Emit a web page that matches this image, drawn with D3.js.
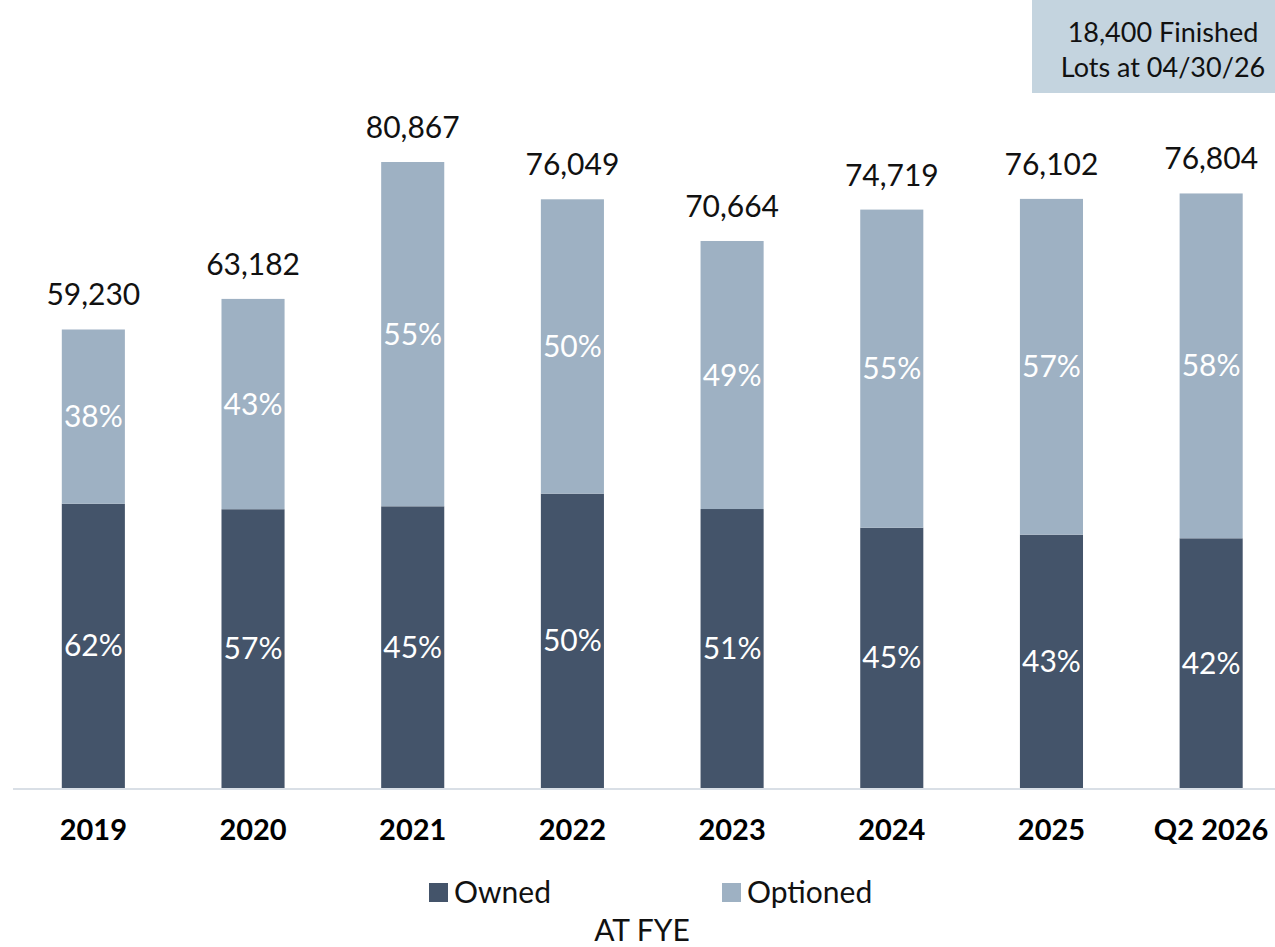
<!DOCTYPE html>
<html>
<head>
<meta charset="utf-8">
<script src="https://cdn.jsdelivr.net/npm/d3@7"></script>
<style>
    body { margin: 0; background: #fff; }
    text { font-family: Lato, "Open Sans", sans-serif; }
</style>
</head>
<body>
<div id="chart"></div>
<script>
// 数据
const categories = ["2019", "2020", "2021", "2022", "2023", "2024", "2025", "Q2 2026"];
const totals = [59230, 63182, 80867, 76049, 70664, 74719, 76102, 76804];
const ownedPct = [62, 57, 45, 50, 51, 45, 43, 42];
const optionedPct = [38, 43, 55, 50, 49, 55, 57, 58];
const noteLines = ["18,400 Finished", "Lots at 04/30/26"];

const width = 1275;
const height = 947;
const baseY = 788;

const colorOwned = "#44546a";
const colorOptioned = "#9eb1c3";

var svg = d3.select("#chart").append("svg")
    .attr("width", width).attr("height", height);

var x = d3.scaleBand()
    .domain(categories)
    .range([13.5, 1291])
    .paddingInner(0.605)
    .paddingOuter(0.3025);

var y = d3.scaleLinear()
    .domain([0, d3.max(totals)])
    .range([baseY, 162]);

var rows = categories.map(function (c, i) {
    var owned = totals[i] * ownedPct[i] / 100;
    return {cat: c, total: totals[i], owned: owned, op: ownedPct[i], pp: optionedPct[i]};
});

var bars = svg.append("g").attr("id", "bars");

// owned部分
bars.selectAll(".owned")
    .data(rows)
    .enter()
    .append("rect")
    .attr("class", "owned")
    .attr("x", d => x(d.cat))
    .attr("width", x.bandwidth())
    .attr("y", d => y(d.owned))
    .attr("height", d => baseY - y(d.owned))
    .attr("fill", colorOwned);

// optioned部分
bars.selectAll(".optioned")
    .data(rows)
    .enter()
    .append("rect")
    .attr("class", "optioned")
    .attr("x", d => x(d.cat))
    .attr("width", x.bandwidth())
    .attr("y", d => y(d.total))
    .attr("height", d => y(d.owned) - y(d.total))
    .attr("fill", colorOptioned);

// 百分比标签
bars.selectAll(".owned_text")
    .data(rows)
    .enter()
    .append("text")
    .attr("x", d => x(d.cat) + x.bandwidth() / 2)
    .attr("y", d => (y(d.owned) + baseY) / 2)
    .attr("dy", "0.35em")
    .attr("text-anchor", "middle")
    .attr("fill", "#fff")
    .attr("font-size", 30)
    .text(d => d.op + "%");

bars.selectAll(".optioned_text")
    .data(rows)
    .enter()
    .append("text")
    .attr("x", d => x(d.cat) + x.bandwidth() / 2)
    .attr("y", d => (y(d.owned) + y(d.total)) / 2)
    .attr("dy", "0.35em")
    .attr("text-anchor", "middle")
    .attr("fill", "#fff")
    .attr("font-size", 30)
    .text(d => d.pp + "%");

// 总数
bars.selectAll(".total_text")
    .data(rows)
    .enter()
    .append("text")
    .attr("x", d => x(d.cat) + x.bandwidth() / 2)
    .attr("y", d => y(d.total) - 24)
    .attr("text-anchor", "middle")
    .attr("fill", "#111")
    .attr("font-size", 30)
    .text(d => d3.format(",")(d.total));

// 基线
svg.append("line")
    .attr("x1", 13).attr("x2", width)
    .attr("y1", baseY + 1).attr("y2", baseY + 1)
    .attr("stroke", "#d9dfe6")
    .attr("stroke-width", 2);

// x轴
var xAxis = svg.append("g")
    .attr("transform", "translate(0," + baseY + ")")
    .call(d3.axisBottom(x).tickSize(0).tickPadding(0));
xAxis.select(".domain").remove();
xAxis.selectAll("text")
    .attr("y", 52)
    .attr("dy", 0)
    .attr("fill", "#000")
    .attr("font-size", 29)
    .attr("font-weight", "bold")
    .style("font-family", "Lato, sans-serif");

// 图例
var legend = svg.append("g");
var items = [{name: "Owned", color: colorOwned, x: 429}, {name: "Optioned", color: colorOptioned, x: 722}];
legend.selectAll("rect")
    .data(items)
    .enter()
    .append("rect")
    .attr("x", d => d.x)
    .attr("y", 883)
    .attr("width", 19)
    .attr("height", 19)
    .attr("fill", d => d.color);
legend.selectAll("text")
    .data(items)
    .enter()
    .append("text")
    .attr("x", d => d.x + 25)
    .attr("y", 903)
    .attr("font-size", 30)
    .attr("fill", "#111")
    .text(d => d.name);

svg.append("text")
    .attr("x", 642)
    .attr("y", 941)
    .attr("text-anchor", "middle")
    .attr("font-size", 30)
    .attr("fill", "#111")
    .text("AT FYE");

// 右上角注释
svg.append("rect")
    .attr("x", 1032).attr("y", 0)
    .attr("width", 243).attr("height", 93)
    .attr("fill", "#c4d4df");
svg.append("g").selectAll("text")
    .data(noteLines)
    .enter()
    .append("text")
    .attr("x", 1163)
    .attr("y", (d, i) => 42 + i * 35)
    .attr("text-anchor", "middle")
    .attr("font-size", 27)
    .attr("fill", "#111")
    .text(d => d);
</script>
</body>
</html>
